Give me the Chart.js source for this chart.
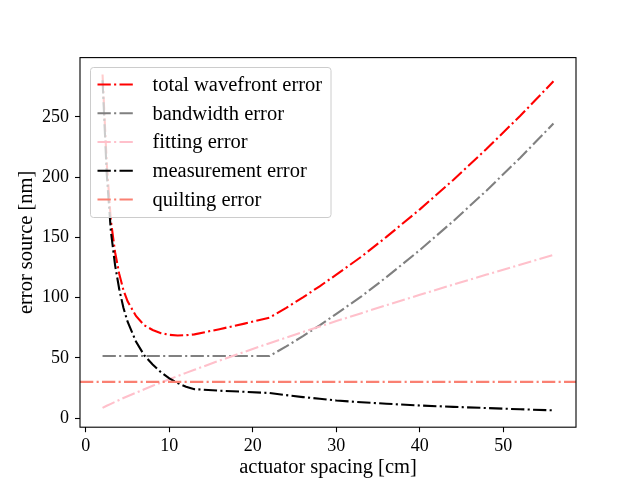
<!DOCTYPE html>
<html>
<head>
<meta charset="utf-8">
<script src="https://cdn.jsdelivr.net/npm/chart.js@4.4.1/dist/chart.umd.min.js"></script>
<style>
  html, body { margin: 0; padding: 0; background: #fff; }
</style>
</head>
<body>
<canvas id="myChart" width="640" height="480"></canvas>
<script>
'use strict';

// values
let spacing = [2, 2.5, 3, 3.5, 4, 4.5, 5, 6, 7, 8, 9, 10, 11, 12, 13, 16, 19, 22,
  24, 26, 28, 30, 33, 36, 40, 44, 48, 52, 56];
let totalError = [285.3, 211.6, 163.8, 137.7, 119.7, 106.3, 96.9, 84.8, 77.0, 73.1, 70.5, 69.1,
  68.6, 68.8, 69.5, 73.8, 78.4, 83.4, 91.5, 100.2, 109.4, 119.1, 134.0, 150.4, 173.3,
  197.7, 223.6, 250.8, 279.6];
let bandwidthError = [51.5, 51.5, 51.5, 51.5, 51.5, 51.5, 51.5, 51.5, 51.5, 51.5, 51.5, 51.5,
  51.5, 51.5, 51.5, 51.5, 51.5, 51.5, 59.5, 68, 77, 86.5, 101, 117, 139.5, 163.5, 189,
  216, 244.5];
let fittingError = [8.4, 10.2, 11.8, 13.4, 15, 16.6, 18.1, 21, 23.9, 26.8, 29.5, 32.2, 34.9,
  37.5, 40.1, 47.7, 55, 62.2, 66.8, 71.5, 76, 80.5, 87.1, 93.7, 102.3, 110.8, 119.1,
  127.3, 135.4];
let measurementError = [280.5, 203, 155, 127, 107, 91.5, 80, 63.5, 52, 44.5, 38, 33, 29, 26, 24,
  22.7, 21.8, 20.8, 19, 17.4, 16, 14.6, 13.1, 11.9, 10.4, 9.3, 8.3, 7.3, 6.4];
let quiltingSpan = [-0.7, 58.7];
let quiltingError = [30, 30];

let xTicks = [0, 10, 20, 30, 40, 50];
let yTicks = [0, 50, 100, 150, 200, 250];

const fontFamily = '"Liberation Serif", "DejaVu Serif", serif';
const textSize = 20.5;
const tickSize = 18;
const dashDot = [13.3, 3.3, 2.1, 3.3];
const lineW = 2.1;

function toPoints(xs, ys) {
  return xs.map((x, i) => ({ x: x, y: ys[i] }));
}

function makeSet(label, xs, ys, color, order) {
  return {
    label: label,
    data: toPoints(xs, ys),
    borderColor: color,
    backgroundColor: color,
    borderWidth: lineW,
    borderDash: dashDot,
    pointRadius: 0,
    tension: 0,
    fill: false,
    order: order,
  };
}

const framePlugin = {
  id: 'frame',
  afterDraw(chart) {
    const { ctx, chartArea: a } = chart;
    ctx.save();
    ctx.strokeStyle = '#000';
    ctx.lineWidth = 1.1;
    ctx.setLineDash([]);
    ctx.strokeRect(a.left, a.top, a.right - a.left, a.bottom - a.top);
    ctx.restore();
  },
};

const boxLegend = {
  id: 'boxLegend',
  afterDraw(chart) {
    const ctx = chart.ctx;
    const x0 = 90.5, y0 = 67.5, w = 240.5, h = 150, r = 3;
    ctx.save();
    ctx.beginPath();
    ctx.moveTo(x0 + r, y0);
    ctx.arcTo(x0 + w, y0, x0 + w, y0 + h, r);
    ctx.arcTo(x0 + w, y0 + h, x0, y0 + h, r);
    ctx.arcTo(x0, y0 + h, x0, y0, r);
    ctx.arcTo(x0, y0, x0 + w, y0, r);
    ctx.closePath();
    ctx.fillStyle = 'rgba(255,255,255,0.8)';
    ctx.fill();
    ctx.strokeStyle = '#cccccc';
    ctx.lineWidth = 1;
    ctx.stroke();

    ctx.font = textSize + 'px ' + fontFamily;
    ctx.textBaseline = 'middle';
    ctx.textAlign = 'left';
    chart.data.datasets.forEach((ds, i) => {
      const y = 84.5 + i * 28.75;
      ctx.beginPath();
      ctx.setLineDash(dashDot);
      ctx.lineWidth = lineW;
      ctx.strokeStyle = ds.borderColor;
      ctx.moveTo(97.5, y);
      ctx.lineTo(133.5, y);
      ctx.stroke();
      ctx.setLineDash([]);
      ctx.fillStyle = '#000';
      ctx.fillText(ds.label, 152.5, y + 1);
    });
    ctx.restore();
  },
};

const tickFont = { family: fontFamily, size: tickSize };
const titleFont = { family: fontFamily, size: textSize };

const config = {
  type: 'line',
  data: {
    datasets: [
      makeSet('total wavefront error', spacing, totalError, '#ff0000', 5),
      makeSet('bandwidth error', spacing, bandwidthError, '#808080', 4),
      makeSet('fitting error', spacing, fittingError, '#ffc0cb', 3),
      makeSet('measurement error', spacing, measurementError, '#000000', 2),
      makeSet('quilting error', quiltingSpan, quiltingError, '#fa8072', 1),
    ],
  },
  options: {
    responsive: false,
    animation: false,
    devicePixelRatio: 1,
    layout: { padding: { left: 0, right: 64, top: 57.6, bottom: 0 } },
    plugins: {
      legend: { display: false },
      tooltip: { enabled: false },
    },
    scales: {
      x: {
        type: 'linear',
        min: -0.7,
        max: 58.7,
        afterBuildTicks: (scale) => { scale.ticks = xTicks.map(v => ({ value: v })); },
        afterFit: (scale) => { scale.height = 52.8; },
        ticks: { color: '#000', font: tickFont, padding: 3, maxRotation: 0 },
        grid: { drawOnChartArea: false, drawTicks: true, tickLength: 5, tickWidth: 1.1, tickColor: '#000' },
        border: { display: false },
        title: {
          display: true,
          text: 'actuator spacing [cm]',
          color: '#000',
          font: titleFont,
          padding: { top: 0, bottom: 0 },
        },
      },
      y: {
        type: 'linear',
        min: -7.6,
        max: 299.3,
        afterBuildTicks: (scale) => { scale.ticks = yTicks.map(v => ({ value: v })); },
        afterFit: (scale) => { scale.width = 80; },
        ticks: { color: '#000', font: tickFont, padding: 6 },
        grid: { drawOnChartArea: false, drawTicks: true, tickLength: 5, tickWidth: 1.1, tickColor: '#000' },
        border: { display: false },
        title: {
          display: true,
          text: 'error source [nm]',
          color: '#000',
          font: titleFont,
          padding: { top: 14, bottom: 0 },
        },
      },
    },
  },
  plugins: [framePlugin, boxLegend],
};

let chartCanvas = document.getElementById('myChart').getContext('2d');
const myChart = new Chart(chartCanvas, config);
</script>
</body>
</html>
